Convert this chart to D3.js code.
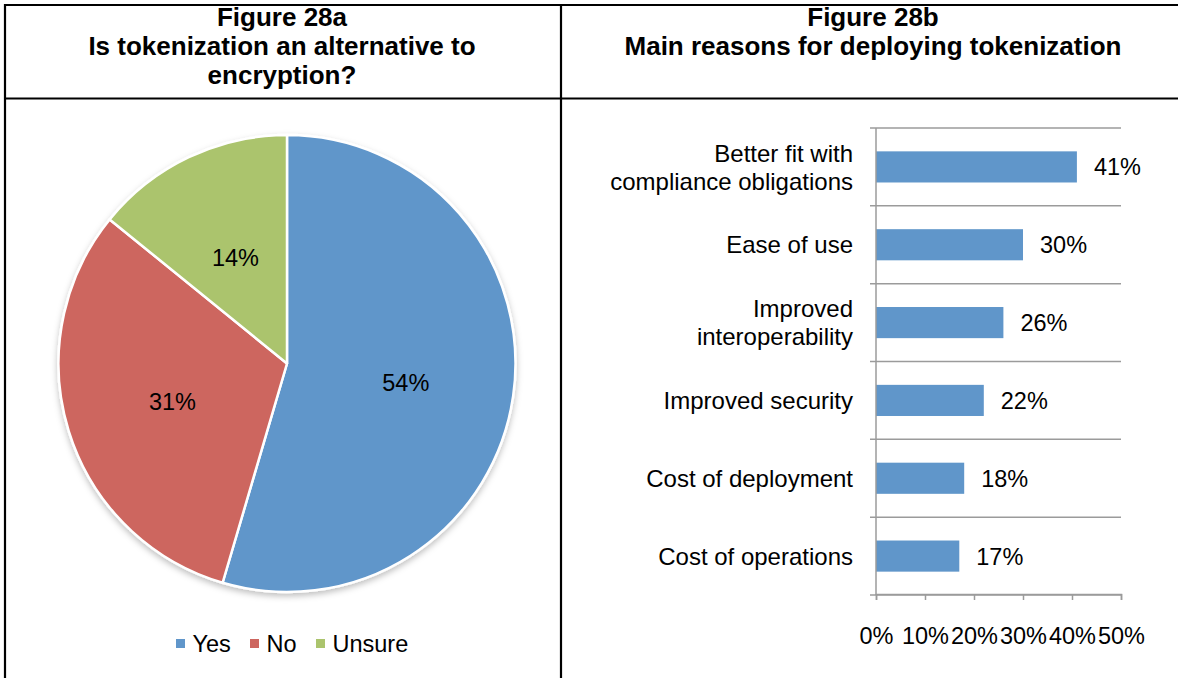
<!DOCTYPE html>
<html>
<head>
<meta charset="utf-8">
<script src="https://cdn.jsdelivr.net/npm/d3@7"></script>
<style>
  html, body { margin: 0; padding: 0; background: #fff; }
  svg { display: block; font-family: "Liberation Sans", Arial, Helvetica, sans-serif; }
</style>
</head>
<body>
<svg id="chart" width="1178" height="678"></svg>
<script>
// Figure 28a: pie
const pieCategories = ["Yes", "No", "Unsure"];
const pieValues = [54, 31, 14];
const pieColors = ["#6096CA", "#CD665F", "#ABC46D"];

// Figure 28b: horizontal bars
const barCategories = [
  ["Better fit with", "compliance obligations"],
  ["Ease of use"],
  ["Improved", "interoperability"],
  ["Improved security"],
  ["Cost of deployment"],
  ["Cost of operations"]
];
const barValues = [41, 30, 26, 22, 18, 17];
const barTicks = [0, 10, 20, 30, 40, 50];

const titleA = ["Figure 28a", "Is tokenization an alternative to", "encryption?"];
const titleB = ["Figure 28b", "Main reasons for deploying tokenization"];

const svg = d3.select("#chart");

// table frame
const frame = svg.append("g").attr("stroke", "#000").attr("stroke-width", 2.2);
frame.append("line").attr("x1", 5).attr("x2", 1178).attr("y1", 5).attr("y2", 5);
frame.append("line").attr("x1", 5).attr("x2", 1178).attr("y1", 98.5).attr("y2", 98.5);
frame.append("line").attr("x1", 5).attr("x2", 5).attr("y1", 4).attr("y2", 678);
frame.append("line").attr("x1", 561).attr("x2", 561).attr("y1", 4).attr("y2", 678);

// headers
function header(lines, cx) {
  svg.append("g").selectAll("text").data(lines).join("text")
    .attr("x", cx)
    .attr("y", (d, i) => 26 + i * 29)
    .attr("text-anchor", "middle")
    .attr("font-weight", "bold")
    .attr("font-size", 26)
    .attr("fill", "#000")
    .text(d => d);
}
header(titleA, 282);
header(titleB, 873);

// ---------- pie ----------
const defs = svg.append("defs");
const shadow = defs.append("filter").attr("id", "pieShadow")
  .attr("x", "-10%").attr("y", "-10%").attr("width", "120%").attr("height", "120%");
shadow.append("feDropShadow").attr("dx", 0).attr("dy", 3).attr("stdDeviation", 3)
  .attr("flood-color", "#000").attr("flood-opacity", 0.25);

const cx = 287, cy = 363.5, R = 228.5;
const pie = d3.pie().sort(null).value(d => d)(pieValues);
const arc = d3.arc().innerRadius(0).outerRadius(R);
const labelArc = d3.arc().innerRadius(120).outerRadius(120);

const pg = svg.append("g").attr("transform", `translate(${cx},${cy})`);
pg.append("g").attr("filter", "url(#pieShadow)")
  .selectAll("path").data(pie).join("path")
  .attr("d", arc)
  .attr("fill", (d, i) => pieColors[i])
  .attr("stroke", "#fff")
  .attr("stroke-width", 2.5)
  .attr("stroke-linejoin", "round");

pg.selectAll("text").data(pie).join("text")
  .attr("transform", d => `translate(${labelArc.centroid(d)})`)
  .attr("text-anchor", "middle")
  .attr("dy", "0.45em")
  .attr("font-size", 23.5)
  .attr("fill", "#000")
  .text(d => d.data + "%");

// legend
const legendX = [176, 250, 316];
const lg = svg.append("g").selectAll("g").data(pieCategories).join("g")
  .attr("transform", (d, i) => `translate(${legendX[i]},639)`);
lg.append("rect").attr("width", 9).attr("height", 9).attr("fill", (d, i) => pieColors[i]);
lg.append("text").attr("x", 16.5).attr("y", 5).attr("dy", "0.36em")
  .attr("font-size", 23.5).attr("fill", "#000").text(d => d);

// ---------- bars ----------
const x0 = 876, x1 = 1121, yTop = 128, yBot = 595;
const x = d3.scaleLinear().domain([0, 50]).range([x0, x1]);
const y = d3.scaleBand().domain(d3.range(barValues.length)).range([yTop, yBot])
  .paddingInner(0.6).paddingOuter(0.3);
const axisColor = "#9b9b9b";

const bg = svg.append("g");
// category separators across the plot
bg.append("g").selectAll("line").data(d3.range(barValues.length + 1)).join("line")
  .attr("x1", x0 - 6).attr("x2", x1)
  .attr("y1", i => yTop + i * (yBot - yTop) / barValues.length)
  .attr("y2", i => yTop + i * (yBot - yTop) / barValues.length)
  .attr("stroke", axisColor).attr("stroke-width", 1.5);

bg.append("g").selectAll("rect").data(barValues).join("rect")
  .attr("x", x0)
  .attr("y", (d, i) => y(i))
  .attr("width", d => x(d) - x0)
  .attr("height", y.bandwidth())
  .attr("fill", "#6096CA");

// vertical axis line
bg.append("line").attr("x1", x0).attr("x2", x0).attr("y1", yTop).attr("y2", yBot)
  .attr("stroke", axisColor).attr("stroke-width", 1.5);

// bottom axis
const xAxis = d3.axisBottom(x).tickValues(barTicks).tickFormat(d => d + "%")
  .tickSize(6).tickPadding(27);
const xg = bg.append("g").attr("transform", `translate(0,${yBot - 1})`).call(xAxis);
xg.select(".domain").attr("stroke", axisColor).attr("stroke-width", 1.5);
xg.selectAll(".tick line").attr("stroke", axisColor).attr("stroke-width", 1.5);
xg.selectAll(".tick text").attr("font-size", 23.5).attr("fill", "#000")
  .attr("font-family", "Liberation Sans, Arial, sans-serif");

// category labels
const cl = bg.append("g").selectAll("text").data(barCategories).join("text")
  .attr("text-anchor", "end")
  .attr("font-size", 24)
  .attr("fill", "#000")
  .attr("transform", (d, i) => `translate(853,${y(i) + y.bandwidth() / 2})`);
cl.selectAll("tspan").data(d => d.map((t, j) => ({ t, j, n: d.length }))).join("tspan")
  .attr("x", 0)
  .attr("y", d => (d.j - (d.n - 1) / 2) * 28)
  .attr("dy", "0.36em")
  .text(d => d.t);

// value labels
bg.append("g").selectAll("text").data(barValues).join("text")
  .attr("x", d => x(d) + 17)
  .attr("y", (d, i) => y(i) + y.bandwidth() / 2)
  .attr("dy", "0.36em")
  .attr("font-size", 23.5)
  .attr("fill", "#000")
  .text(d => d + "%");
</script>
</body>
</html>
